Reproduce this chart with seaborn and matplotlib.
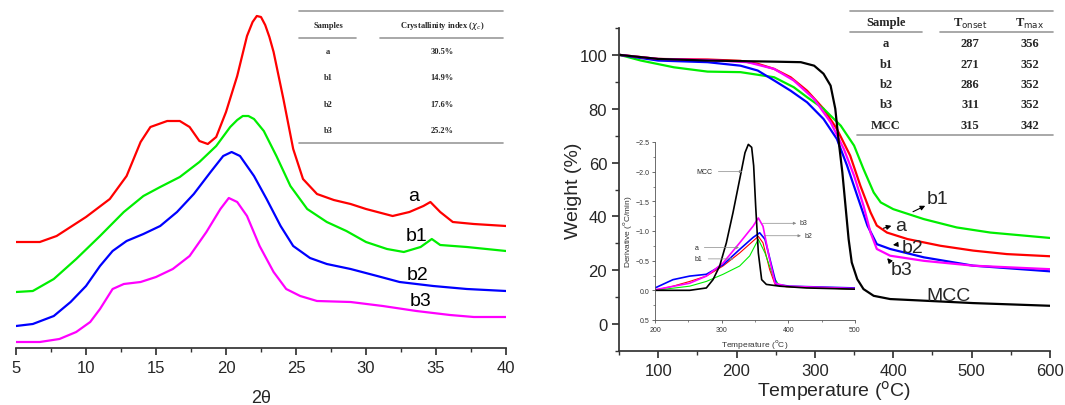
import matplotlib
matplotlib.use("Agg")
import matplotlib.pyplot as plt
from matplotlib.lines import Line2D
from matplotlib.ticker import MultipleLocator
import seaborn as sns
import pandas as pd

# ---- XRD data (2theta, intensity a.u.) ----
xrd_a_x = [5, 6.7, 7.9, 10.0, 11.7, 12.9, 13.9, 14.6, 15.8, 16.7, 17.4, 18.1, 18.7, 19.3, 20.0,
           20.8, 21.5, 21.9, 22.2, 22.5, 22.8, 23.1, 23.4, 24.1, 24.8, 25.5, 26.5, 27.7, 28.9,
           30.0, 31.9, 33.1, 34.1, 34.6, 35.3, 36.2, 37.7, 40]
xrd_a_y = [106, 106, 112, 131, 149, 172, 206, 221, 227, 227, 221, 207, 204, 211, 236,
           272, 312, 326, 332, 331, 323, 311, 296, 249, 199, 169, 154, 148, 144,
           139, 132, 136, 142, 146, 136, 126, 124, 122]
xrd_b1_x = [5, 6.2, 7.7, 9.3, 11.0, 12.7, 14.1, 15.3, 16.7, 18.1, 19.3, 20.3, 20.8, 21.2, 21.6,
            22.0, 22.7, 23.6, 24.6, 25.8, 27.2, 28.6, 30.0, 31.5, 32.7, 33.9, 34.7, 35.3, 37.2,
            40]
xrd_b1_y = [56, 57, 69, 89, 112, 136, 152, 161, 171, 186, 202, 221, 228, 232, 232,
            229, 217, 192, 162, 139, 126, 117, 106, 99, 96, 101, 109, 103, 101, 97]
xrd_b2_x = [5, 6.2, 7.7, 8.9, 10.0, 11.0, 11.9, 12.9, 14.1, 15.3, 16.5, 17.7, 18.9, 19.8, 20.4,
            21.0, 22.0, 22.9, 23.9, 24.8, 26.0, 27.2, 28.9, 30.8, 32.4, 34.8, 37.2, 40]
xrd_b2_y = [22, 24, 32, 46, 62, 82, 97, 107, 114, 122, 136, 154, 176, 192, 196,
            192, 172, 149, 122, 102, 90, 84, 79, 72, 66, 62, 59, 57]
xrd_b3_x = [5, 6.7, 8.1, 9.3, 10.3, 11.0, 11.9, 12.7, 13.9, 15.0, 16.2, 17.4, 18.6, 19.6, 20.2,
            20.8, 21.5, 22.4, 23.4, 24.3, 25.3, 26.5, 28.9, 31.2, 33.6, 36.0, 37.7, 40]
xrd_b3_y = [6, 6, 9, 16, 26, 39, 59, 64, 66, 71, 79, 92, 116, 139, 150,
            146, 132, 102, 76, 59, 52, 47, 46, 42, 37, 33, 31, 31]
xrd_names = ["a", "b1", "b2", "b3"]
crystallinity = ["30.5%", "14.9%", "17.6%", "25.2%"]

# ---- TGA data (temperature C, weight %) ----
tga_mcc_x = [51, 100, 163, 248, 282, 299, 311, 320, 326, 330, 335, 339, 343, 347, 354, 362,
             375, 396, 439, 502, 600]
tga_mcc_y = [100, 98.5, 97.9, 97.5, 97.3, 96, 93, 88.6, 80, 68.8, 56.4, 44, 31.6, 22.9, 16.7,
             13, 10.5, 9.3, 8.7, 7.8, 6.8]
tga_a_x = [51, 100, 163, 205, 227, 248, 269, 290, 311, 328, 345, 358, 371, 379, 392, 418, 460,
           502, 545, 600]
tga_a_y = [100, 98.5, 98.3, 97.8, 96.7, 94.8, 91.7, 86.7, 80, 72.5, 62.6, 51.4, 41.5, 36.6, 34,
           31.6, 29.1, 27.3, 26, 25.2]
tga_b1_x = [51, 78, 120, 163, 205, 248, 273, 290, 311, 333, 350, 362, 375, 384, 400, 439, 481,
            524, 600]
tga_b1_y = [100, 97.9, 95.4, 93.8, 93.6, 91.7, 88, 84.3, 80, 73.7, 66.3, 57.6, 48.9, 45.2, 42.7,
            39, 35.9, 34, 32]
tga_b2_x = [51, 100, 163, 205, 227, 248, 269, 290, 311, 328, 341, 354, 367, 379, 396, 439, 502,
            600]
tga_b2_y = [100, 97.9, 97.3, 96, 94.2, 90.5, 86.7, 82.4, 76.2, 68.8, 58.9, 47.7, 36.6, 29.7,
            27.9, 24.8, 21.7, 19.6]
tga_b3_x = [51, 100, 163, 214, 248, 273, 299, 320, 337, 350, 362, 371, 379, 396, 439, 502, 600]
tga_b3_y = [100, 98.5, 98.1, 97.3, 94.8, 90.5, 83.6, 75, 65, 55.1, 44, 34, 27.9, 25.4, 23.5,
            21.7, 20.4]
tga_names = ["a", "b1", "b2", "b3", "MCC"]
t_onset = ["287", "271", "286", "311", "315"]
t_max = ["356", "352", "352", "352", "342"]

# ---- DTG inset data (temperature C, derivative C/min) ----
dtg_mcc_x = [200, 252, 277, 287, 297, 307, 317, 327, 335, 340, 345, 348, 351, 355, 360, 367,
             387, 427, 500]
dtg_mcc_y = [0.0, 0.0, -0.04, -0.18, -0.41, -0.80, -1.31, -1.87, -2.32, -2.46, -2.41, -2.10,
             -1.42, -0.63, -0.18, -0.10, -0.07, -0.04, -0.02]
dtg_a_x = [200, 227, 252, 277, 302, 327, 347, 355, 362, 372, 380, 397, 500]
dtg_a_y = [0.0, -0.07, -0.15, -0.24, -0.41, -0.63, -0.83, -0.91, -0.80, -0.35, -0.10, -0.06, -0.02]
dtg_b1_x = [200, 252, 277, 302, 327, 342, 355, 365, 377, 387, 500]
dtg_b1_y = [0.0, -0.07, -0.15, -0.27, -0.41, -0.58, -0.86, -0.63, -0.24, -0.07, -0.02]
dtg_b2_x = [200, 227, 252, 277, 302, 327, 347, 357, 365, 375, 382, 402, 500]
dtg_b2_y = [-0.04, -0.18, -0.24, -0.27, -0.43, -0.69, -0.89, -0.97, -0.86, -0.41, -0.10, -0.07,
            -0.04]
dtg_b3_x = [200, 252, 277, 302, 327, 347, 355, 362, 372, 380, 397, 500]
dtg_b3_y = [-0.01, -0.12, -0.24, -0.46, -0.80, -1.08, -1.22, -1.08, -0.52, -0.12, -0.07, -0.03]

colors = {"a": "#ff0000", "b1": "#00ee00", "b2": "#0000ff", "b3": "#ff00ff", "MCC": "#000000"}


def frame(xs, ys, names):
    rows = []
    for x, y, n in zip(xs, ys, names):
        rows.append(pd.DataFrame({"x": x, "y": y, "sample": n}))
    return pd.concat(rows, ignore_index=True)


sns.set_theme(style="ticks")
plt.rcParams["font.family"] = ["Liberation Sans", "DejaVu Sans"]
plt.rcParams["xtick.direction"] = "out"
plt.rcParams["ytick.direction"] = "out"

fig = plt.figure(figsize=(10.65, 4.06), dpi=100)

# ---------------- left: XRD ----------------
ax1 = fig.add_axes([16 / 1065, 57 / 406, 490 / 1065, 340 / 406])
df_xrd = frame([xrd_a_x, xrd_b1_x, xrd_b2_x, xrd_b3_x],
               [xrd_a_y, xrd_b1_y, xrd_b2_y, xrd_b3_y], xrd_names)
sns.lineplot(data=df_xrd, x="x", y="y", hue="sample", palette=colors, sort=False,
             estimator=None, linewidth=1.6, legend=False, ax=ax1)
ax1.set_xlim(5, 40)
ax1.set_ylim(0, 340)
ax1.set_xlabel("2θ", fontsize=13, labelpad=10)
ax1.set_ylabel("")
ax1.set_yticks([])
for s in ["left", "top", "right"]:
    ax1.spines[s].set_visible(False)
ax1.spines["bottom"].set_color("#333333")
ax1.xaxis.set_major_locator(MultipleLocator(5))
ax1.xaxis.set_minor_locator(MultipleLocator(2.5))
ax1.tick_params(axis="x", which="major", length=5, labelsize=12, color="#333333")
ax1.tick_params(axis="x", which="minor", length=3, color="#333333")
for name, (tx, ty) in zip(xrd_names, [(33.4, 152), (33.6, 112), (33.7, 74), (33.9, 47)]):
    ax1.text(tx, ty, name, fontsize=14, ha="center", va="center", color="black")

# ---------------- right: TGA ----------------
ax2 = fig.add_axes([619 / 1065, 54 / 406, 431 / 1065, 323 / 406])
df_tga = frame([tga_a_x, tga_b1_x, tga_b2_x, tga_b3_x, tga_mcc_x],
               [tga_a_y, tga_b1_y, tga_b2_y, tga_b3_y, tga_mcc_y], tga_names)
sns.lineplot(data=df_tga, x="x", y="y", hue="sample", palette=colors, sort=False,
             estimator=None, linewidth=1.6, legend=False, ax=ax2)
ax2.set_xlim(50, 600)
ax2.set_ylim(-10, 110)
ax2.set_xlabel("Temperature ($^{\\mathrm{o}}$C)", fontsize=14, labelpad=0)
ax2.set_ylabel("Weight (%)", fontsize=14, labelpad=-2)
for s in ["top", "right"]:
    ax2.spines[s].set_visible(False)
ax2.spines["bottom"].set_color("#333333")
ax2.spines["left"].set_color("#333333")
ax2.xaxis.set_major_locator(MultipleLocator(100))
ax2.xaxis.set_minor_locator(MultipleLocator(50))
ax2.set_yticks([0, 20, 40, 60, 80, 100])
ax2.yaxis.set_minor_locator(MultipleLocator(10))
ax2.tick_params(which="major", length=5, labelsize=12, color="#333333")
ax2.tick_params(which="minor", length=3, color="#333333")

arrow = dict(arrowstyle="-|>", color="black", lw=0.8, mutation_scale=7)
ax2.annotate("", xy=(444, 44.4), xytext=(422, 41.3), arrowprops=arrow)
ax2.text(456, 46.5, "b1", fontsize=14, ha="center", va="center")
ax2.annotate("", xy=(401, 36.8), xytext=(384, 35.3), arrowprops=arrow)
ax2.text(410, 36.6, "a", fontsize=14, ha="center", va="center")
ax2.annotate("", xy=(396, 29.3), xytext=(409, 29.7), arrowprops=arrow)
ax2.text(424, 28.5, "b2", fontsize=14, ha="center", va="center")
ax2.annotate("", xy=(390, 25.3), xytext=(398, 22.5), arrowprops=arrow)
ax2.text(411, 20.4, "b3", fontsize=14, ha="center", va="center")
ax2.text(471, 10.5, "MCC", fontsize=14, ha="center", va="center")

# ---------------- inset: DTG ----------------
ax3 = fig.add_axes([655 / 1065, 85 / 406, 200 / 1065, 178 / 406])
ax3.patch.set_alpha(0)
df_dtg = frame([dtg_a_x, dtg_b1_x, dtg_b2_x, dtg_b3_x, dtg_mcc_x],
               [dtg_a_y, dtg_b1_y, dtg_b2_y, dtg_b3_y, dtg_mcc_y], tga_names)
widths = {"a": 0.8, "b1": 0.8, "b2": 1.2, "b3": 1.2, "MCC": 1.2}
for name in tga_names:
    sub = df_dtg[df_dtg["sample"] == name]
    sns.lineplot(data=sub, x="x", y="y", color=colors[name], sort=False, estimator=None,
                 linewidth=widths[name], legend=False, ax=ax3)
ax3.set_xlim(200, 500)
ax3.set_ylim(0.5, -2.5)
for s in ["top", "right"]:
    ax3.spines[s].set_visible(False)
for s in ["left", "bottom"]:
    ax3.spines[s].set_color("#555555")
    ax3.spines[s].set_linewidth(0.6)
ax3.set_xticks([200, 300, 400, 500])
ax3.xaxis.set_minor_locator(MultipleLocator(50))
ax3.set_yticks([0.5, 0.0, -0.5, -1.0, -1.5, -2.0, -2.5])
ax3.yaxis.set_minor_locator(MultipleLocator(0.25))
ax3.tick_params(which="major", length=2.5, width=0.6, labelsize=5, pad=1.5, color="#555555",
                labelcolor="#333333")
ax3.tick_params(which="minor", length=1.5, width=0.5, color="#555555")
ax3.set_xlabel("Temperature ($^{\\mathrm{o}}$C)", fontsize=6, labelpad=3, color="#333333")
ax3.set_ylabel("Derivative ($^{\\mathrm{o}}$C/min)", fontsize=6, labelpad=1, color="#333333")

thin = dict(arrowstyle="-|>", color="#888888", lw=0.5, mutation_scale=4)
ax3.annotate("MCC", xy=(335, -2.0), xytext=(274, -2.0), fontsize=5, ha="center", va="center",
             arrowprops=thin)
ax3.annotate("", xy=(416, -1.13), xytext=(357, -1.13), arrowprops=thin)
ax3.text(422, -1.14, "b3", fontsize=5, ha="center", va="center", color="#333333")
ax3.annotate("", xy=(423, -0.92), xytext=(360, -0.92), arrowprops=thin)
ax3.text(430, -0.93, "b2", fontsize=5, ha="center", va="center", color="#333333")
ax3.annotate("a", xy=(330, -0.72), xytext=(262, -0.72), fontsize=5, ha="center", va="center",
             arrowprops=thin)
ax3.annotate("b1", xy=(322, -0.53), xytext=(265, -0.53), fontsize=5, ha="center", va="center",
             arrowprops=thin)

# ---------------- tables ----------------
W, H = 1065.0, 406.0
line_c = "#999999"


def hline(x0, x1, y, lw=1.2):
    fig.add_artist(Line2D([x0 / W, x1 / W], [1 - y / H, 1 - y / H], color=line_c, lw=lw))


def ftxt(x, y, s, size):
    fig.text(x / W, 1 - y / H, s, fontsize=size, ha="center", va="center", fontweight="bold",
             family=["Liberation Serif", "DejaVu Serif"])


# left table
hline(299, 503, 12)
hline(299, 356, 39)
hline(380, 503, 39)
hline(299, 503, 144)
ftxt(328, 26, "Samples", 6)
ftxt(442, 26, "Crystallinity index ($\\chi_c$)", 6)
for i, (n, c) in enumerate(zip(xrd_names, crystallinity)):
    ftxt(328, 52 + i * 26.3, n, 6)
    ftxt(442, 52 + i * 26.3, c, 6)

# right table
hline(850, 1053, 12)
hline(850, 922, 33)
hline(940, 1053, 33)
hline(857, 1053, 136)
ftxt(886, 23, "Sample", 9)
ftxt(970, 24, "T$_{\\mathrm{onset}}$", 9)
ftxt(1030, 24, "T$_{\\mathrm{max}}$", 9)
for i, (n, a, b) in enumerate(zip(tga_names, t_onset, t_max)):
    ftxt(886, 44 + i * 20.5, n, 9)
    ftxt(970, 44 + i * 20.5, a, 9)
    ftxt(1030, 44 + i * 20.5, b, 9)

fig.savefig("out.png", dpi=100)
